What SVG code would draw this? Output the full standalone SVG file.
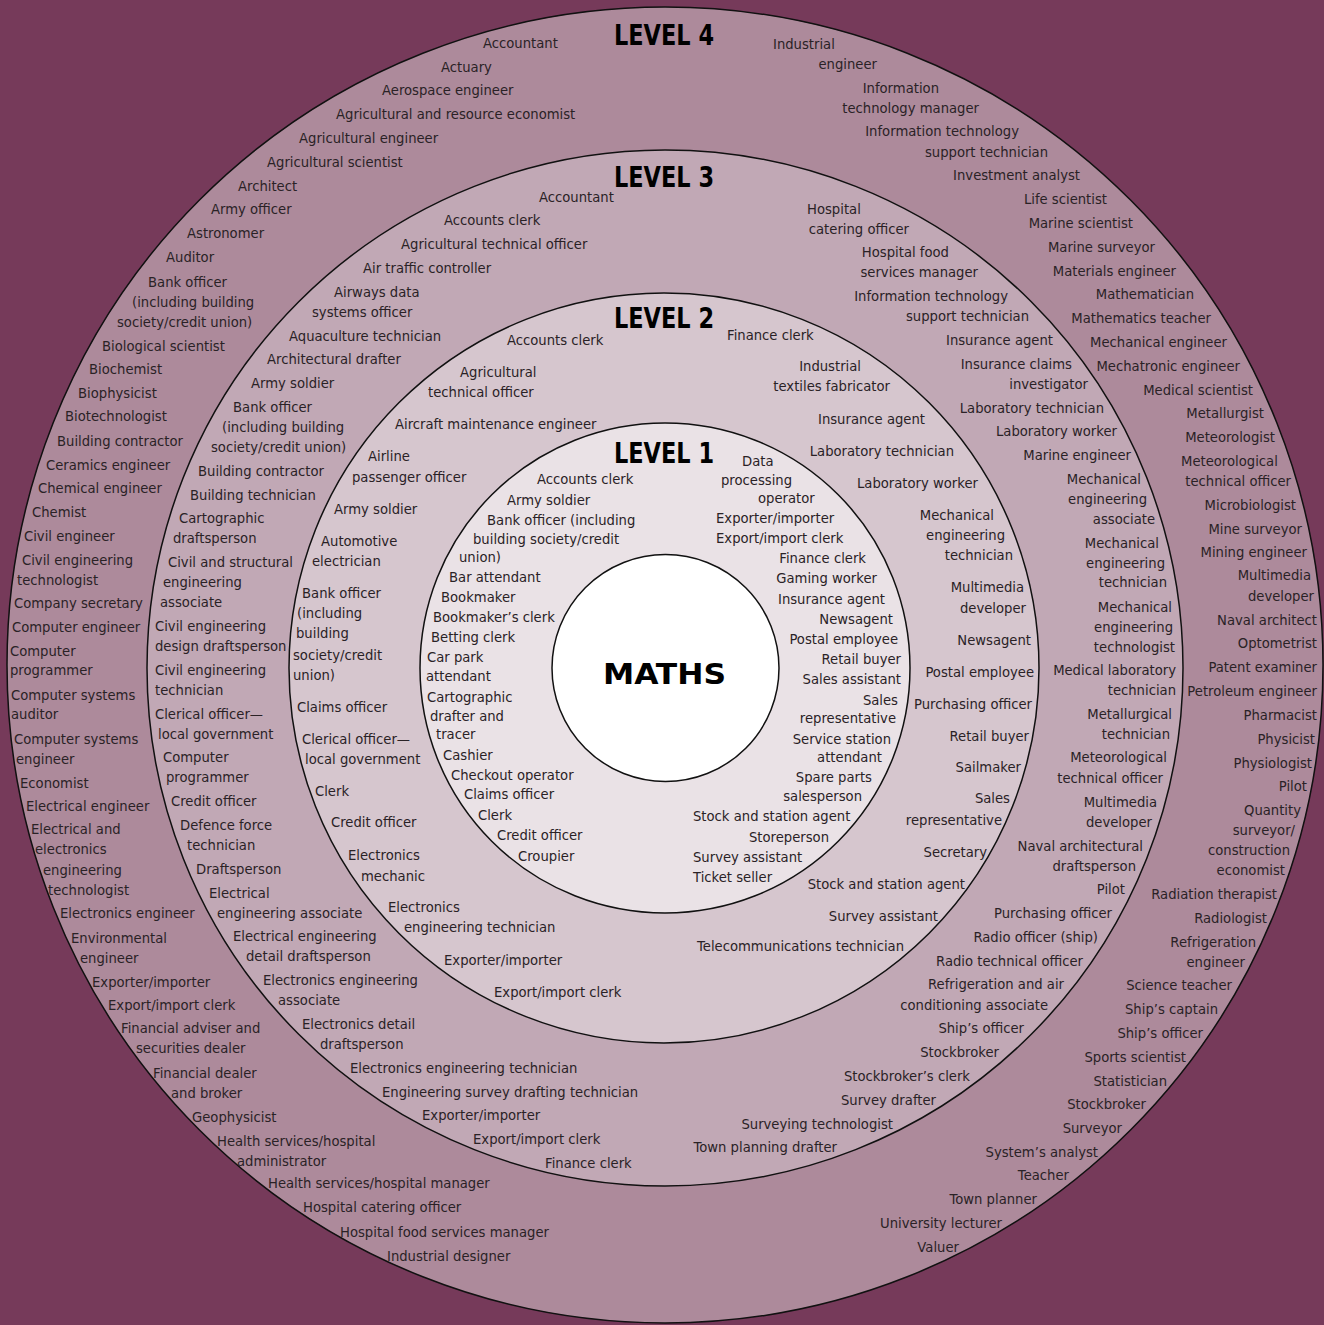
<svg xmlns="http://www.w3.org/2000/svg" width="1324" height="1325" viewBox="0 0 1324 1325">
<style>
.t{font-family:"DejaVu Sans","Liberation Sans",sans-serif;font-size:13.2px;fill:#2a2226}
.e{text-anchor:end}
.lv{font-family:"DejaVu Sans Condensed","DejaVu Sans","Liberation Sans",sans-serif;font-weight:bold;font-size:28.5px;fill:#000}
.ring{stroke:#111;stroke-width:1.5}
</style>
<rect x="0" y="0" width="1324" height="1325" fill="#763a5a"/>
<g id="level4">
<circle class="ring" cx="665" cy="665" r="658" fill="#ad8a9b"/>
<text class="lv" x="614" y="45" textLength="100" lengthAdjust="spacingAndGlyphs">LEVEL 4</text>
<g class="t">
<text x="483" y="48">Accountant</text>
<text x="441" y="72">Actuary</text>
<text x="382" y="95">Aerospace engineer</text>
<text x="336" y="119">Agricultural and resource economist</text>
<text x="299" y="143">Agricultural engineer</text>
<text x="267" y="167">Agricultural scientist</text>
<text x="238" y="191">Architect</text>
<text x="211" y="214">Army officer</text>
<text x="187" y="238">Astronomer</text>
<text x="166" y="262">Auditor</text>
<text x="148" y="287">Bank officer</text>
<text x="132" y="307">(including building</text>
<text x="117" y="327">society/credit union)</text>
<text x="102" y="351">Biological scientist</text>
<text x="89" y="374">Biochemist</text>
<text x="78" y="398">Biophysicist</text>
<text x="65" y="421">Biotechnologist</text>
<text x="57" y="446">Building contractor</text>
<text x="46" y="470">Ceramics engineer</text>
<text x="38" y="493">Chemical engineer</text>
<text x="32" y="517">Chemist</text>
<text x="24" y="541">Civil engineer</text>
<text x="22" y="565">Civil engineering</text>
<text x="17" y="585">technologist</text>
<text x="14" y="608">Company secretary</text>
<text x="12" y="632">Computer engineer</text>
<text x="10" y="656">Computer</text>
<text x="10" y="675">programmer</text>
<text x="11" y="700">Computer systems</text>
<text x="11" y="719">auditor</text>
<text x="14" y="744">Computer systems</text>
<text x="16" y="764">engineer</text>
<text x="20" y="788">Economist</text>
<text x="26" y="811">Electrical engineer</text>
<text x="31" y="834">Electrical and</text>
<text x="35" y="854">electronics</text>
<text x="43" y="875">engineering</text>
<text x="48" y="895">technologist</text>
<text x="60" y="918">Electronics engineer</text>
<text x="71" y="943">Environmental</text>
<text x="80" y="963">engineer</text>
<text x="92" y="987">Exporter/importer</text>
<text x="108" y="1010">Export/import clerk</text>
<text x="121" y="1033">Financial adviser and</text>
<text x="136" y="1053">securities dealer</text>
<text x="153" y="1078">Financial dealer</text>
<text x="171" y="1098">and broker</text>
<text x="192" y="1122">Geophysicist</text>
<text x="217" y="1146">Health services/hospital</text>
<text x="237" y="1166">administrator</text>
<text x="268" y="1188">Health services/hospital manager</text>
<text x="303" y="1212">Hospital catering officer</text>
<text x="340" y="1237">Hospital food services manager</text>
<text x="387" y="1261">Industrial designer</text>
<text x="773" y="49">Industrial</text>
<text class="e" x="877" y="69">engineer</text>
<text class="e" x="939" y="93">Information</text>
<text class="e" x="979" y="113">technology manager</text>
<text class="e" x="1019" y="136">Information technology</text>
<text class="e" x="1048" y="157">support technician</text>
<text class="e" x="1080" y="180">Investment analyst</text>
<text class="e" x="1107" y="204">Life scientist</text>
<text class="e" x="1133" y="228">Marine scientist</text>
<text class="e" x="1155" y="252">Marine surveyor</text>
<text class="e" x="1176" y="276">Materials engineer</text>
<text class="e" x="1194" y="299">Mathematician</text>
<text class="e" x="1211" y="323">Mathematics teacher</text>
<text class="e" x="1227" y="347">Mechanical engineer</text>
<text class="e" x="1240" y="371">Mechatronic engineer</text>
<text class="e" x="1253" y="395">Medical scientist</text>
<text class="e" x="1264" y="418">Metallurgist</text>
<text class="e" x="1275" y="442">Meteorologist</text>
<text x="1181" y="466">Meteorological</text>
<text class="e" x="1291" y="486">technical officer</text>
<text class="e" x="1296" y="510">Microbiologist</text>
<text class="e" x="1302" y="534">Mine surveyor</text>
<text class="e" x="1307" y="557">Mining engineer</text>
<text class="e" x="1311" y="580">Multimedia</text>
<text class="e" x="1314" y="601">developer</text>
<text class="e" x="1317" y="625">Naval architect</text>
<text class="e" x="1317" y="648">Optometrist</text>
<text class="e" x="1317" y="672">Patent examiner</text>
<text class="e" x="1317" y="696">Petroleum engineer</text>
<text class="e" x="1317" y="720">Pharmacist</text>
<text class="e" x="1315" y="744">Physicist</text>
<text class="e" x="1312" y="768">Physiologist</text>
<text class="e" x="1307" y="791">Pilot</text>
<text class="e" x="1301" y="815">Quantity</text>
<text class="e" x="1295" y="835">surveyor/</text>
<text class="e" x="1290" y="855">construction</text>
<text class="e" x="1285" y="875">economist</text>
<text class="e" x="1277" y="899">Radiation therapist</text>
<text class="e" x="1267" y="923">Radiologist</text>
<text class="e" x="1256" y="947">Refrigeration</text>
<text class="e" x="1245" y="967">engineer</text>
<text class="e" x="1232" y="990">Science teacher</text>
<text class="e" x="1218" y="1014">Ship’s captain</text>
<text class="e" x="1203" y="1038">Ship’s officer</text>
<text class="e" x="1186" y="1062">Sports scientist</text>
<text class="e" x="1167" y="1086">Statistician</text>
<text class="e" x="1146" y="1109">Stockbroker</text>
<text class="e" x="1122" y="1133">Surveyor</text>
<text class="e" x="1098" y="1157">System’s analyst</text>
<text class="e" x="1069" y="1180">Teacher</text>
<text class="e" x="1037" y="1204">Town planner</text>
<text class="e" x="1002" y="1228">University lecturer</text>
<text class="e" x="959" y="1252">Valuer</text>
</g>
</g>
<g id="level3">
<circle class="ring" cx="665" cy="668" r="518" fill="#c1a8b5"/>
<text class="lv" x="614" y="187" textLength="100" lengthAdjust="spacingAndGlyphs">LEVEL 3</text>
<g class="t">
<text x="539" y="202">Accountant</text>
<text x="444" y="225">Accounts clerk</text>
<text x="401" y="249">Agricultural technical officer</text>
<text x="363" y="273">Air traffic controller</text>
<text x="334" y="297">Airways data</text>
<text x="312" y="317">systems officer</text>
<text x="289" y="341">Aquaculture technician</text>
<text x="267" y="364">Architectural drafter</text>
<text x="251" y="388">Army soldier</text>
<text x="233" y="412">Bank officer</text>
<text x="222" y="432">(including building</text>
<text x="211" y="452">society/credit union)</text>
<text x="198" y="476">Building contractor</text>
<text x="190" y="500">Building technician</text>
<text x="179" y="523">Cartographic</text>
<text x="173" y="543">draftsperson</text>
<text x="168" y="567">Civil and structural</text>
<text x="163" y="587">engineering</text>
<text x="160" y="607">associate</text>
<text x="155" y="631">Civil engineering</text>
<text x="155" y="651">design draftsperson</text>
<text x="155" y="675">Civil engineering</text>
<text x="155" y="695">technician</text>
<text x="155" y="719">Clerical officer—</text>
<text x="158" y="739">local government</text>
<text x="163" y="762">Computer</text>
<text x="166" y="782">programmer</text>
<text x="171" y="806">Credit officer</text>
<text x="180" y="830">Defence force</text>
<text x="187" y="850">technician</text>
<text x="196" y="874">Draftsperson</text>
<text x="209" y="898">Electrical</text>
<text x="217" y="918">engineering associate</text>
<text x="233" y="941">Electrical engineering</text>
<text x="246" y="961">detail draftsperson</text>
<text x="263" y="985">Electronics engineering</text>
<text x="278" y="1005">associate</text>
<text x="302" y="1029">Electronics detail</text>
<text x="320" y="1049">draftsperson</text>
<text x="350" y="1073">Electronics engineering technician</text>
<text x="382" y="1097">Engineering survey drafting technician</text>
<text x="422" y="1120">Exporter/importer</text>
<text x="473" y="1144">Export/import clerk</text>
<text x="545" y="1168">Finance clerk</text>
<text x="807" y="214">Hospital</text>
<text class="e" x="909" y="234">catering officer</text>
<text class="e" x="949" y="257">Hospital food</text>
<text class="e" x="978" y="277">services manager</text>
<text class="e" x="1008" y="301">Information technology</text>
<text class="e" x="1029" y="321">support technician</text>
<text class="e" x="1053" y="345">Insurance agent</text>
<text class="e" x="1072" y="369">Insurance claims</text>
<text class="e" x="1088" y="389">investigator</text>
<text class="e" x="1104" y="413">Laboratory technician</text>
<text class="e" x="1117" y="436">Laboratory worker</text>
<text class="e" x="1131" y="460">Marine engineer</text>
<text class="e" x="1141" y="484">Mechanical</text>
<text class="e" x="1147" y="504">engineering</text>
<text class="e" x="1155" y="524">associate</text>
<text class="e" x="1159" y="548">Mechanical</text>
<text class="e" x="1165" y="568">engineering</text>
<text class="e" x="1167" y="587">technician</text>
<text class="e" x="1172" y="612">Mechanical</text>
<text class="e" x="1173" y="632">engineering</text>
<text class="e" x="1175" y="652">technologist</text>
<text class="e" x="1176" y="675">Medical laboratory</text>
<text class="e" x="1176" y="695">technician</text>
<text class="e" x="1172" y="719">Metallurgical</text>
<text class="e" x="1170" y="739">technician</text>
<text class="e" x="1167" y="762">Meteorological</text>
<text class="e" x="1163" y="783">technical officer</text>
<text class="e" x="1157" y="807">Multimedia</text>
<text class="e" x="1152" y="827">developer</text>
<text class="e" x="1143" y="851">Naval architectural</text>
<text class="e" x="1136" y="871">draftsperson</text>
<text class="e" x="1125" y="894">Pilot</text>
<text class="e" x="1112" y="918">Purchasing officer</text>
<text class="e" x="1098" y="942">Radio officer (ship)</text>
<text class="e" x="1083" y="966">Radio technical officer</text>
<text class="e" x="1064" y="989">Refrigeration and air</text>
<text class="e" x="1048" y="1010">conditioning associate</text>
<text class="e" x="1024" y="1033">Ship’s officer</text>
<text class="e" x="999" y="1057">Stockbroker</text>
<text class="e" x="970" y="1081">Stockbroker’s clerk</text>
<text class="e" x="936" y="1105">Survey drafter</text>
<text class="e" x="893" y="1129">Surveying technologist</text>
<text class="e" x="837" y="1152">Town planning drafter</text>
</g>
</g>
<g id="level2">
<circle class="ring" cx="664" cy="668" r="375" fill="#d6c6ce"/>
<text class="lv" x="614" y="328" textLength="100" lengthAdjust="spacingAndGlyphs">LEVEL 2</text>
<g class="t">
<text x="507" y="345">Accounts clerk</text>
<text x="460" y="377">Agricultural</text>
<text x="428" y="397">technical officer</text>
<text x="395" y="429">Aircraft maintenance engineer</text>
<text x="368" y="461">Airline</text>
<text x="352" y="482">passenger officer</text>
<text x="334" y="514">Army soldier</text>
<text x="321" y="546">Automotive</text>
<text x="312" y="566">electrician</text>
<text x="302" y="598">Bank officer</text>
<text x="297" y="618">(including</text>
<text x="296" y="638">building</text>
<text x="293" y="660">society/credit</text>
<text x="293" y="680">union)</text>
<text x="297" y="712">Claims officer</text>
<text x="302" y="744">Clerical officer—</text>
<text x="305" y="764">local government</text>
<text x="315" y="796">Clerk</text>
<text x="331" y="827">Credit officer</text>
<text x="348" y="860">Electronics</text>
<text x="361" y="881">mechanic</text>
<text x="388" y="912">Electronics</text>
<text x="404" y="932">engineering technician</text>
<text x="444" y="965">Exporter/importer</text>
<text x="494" y="997">Export/import clerk</text>
<text x="727" y="340">Finance clerk</text>
<text class="e" x="861" y="371">Industrial</text>
<text class="e" x="890" y="391">textiles fabricator</text>
<text class="e" x="925" y="424">Insurance agent</text>
<text class="e" x="954" y="456">Laboratory technician</text>
<text class="e" x="978" y="488">Laboratory worker</text>
<text class="e" x="994" y="520">Mechanical</text>
<text class="e" x="1005" y="540">engineering</text>
<text class="e" x="1013" y="560">technician</text>
<text class="e" x="1024" y="592">Multimedia</text>
<text class="e" x="1026" y="613">developer</text>
<text class="e" x="1031" y="645">Newsagent</text>
<text class="e" x="1034" y="677">Postal employee</text>
<text class="e" x="1032" y="709">Purchasing officer</text>
<text class="e" x="1029" y="741">Retail buyer</text>
<text class="e" x="1021" y="772">Sailmaker</text>
<text class="e" x="1010" y="803">Sales</text>
<text class="e" x="1002" y="825">representative</text>
<text class="e" x="987" y="857">Secretary</text>
<text class="e" x="965" y="889">Stock and station agent</text>
<text class="e" x="938" y="921">Survey assistant</text>
<text class="e" x="904" y="951">Telecommunications technician</text>
</g>
</g>
<g id="level1">
<circle class="ring" cx="665" cy="668" r="245" fill="#eae2e6"/>
<text class="lv" x="614" y="463" textLength="100" lengthAdjust="spacingAndGlyphs">LEVEL 1</text>
<g class="t">
<text x="537" y="484">Accounts clerk</text>
<text x="507" y="505">Army soldier</text>
<text x="487" y="525">Bank officer (including</text>
<text x="473" y="544">building society/credit</text>
<text x="459" y="562">union)</text>
<text x="449" y="582">Bar attendant</text>
<text x="441" y="602">Bookmaker</text>
<text x="433" y="622">Bookmaker’s clerk</text>
<text x="431" y="642">Betting clerk</text>
<text x="427" y="662">Car park</text>
<text x="426" y="681">attendant</text>
<text x="427" y="702">Cartographic</text>
<text x="430" y="721">drafter and</text>
<text x="436" y="739">tracer</text>
<text x="443" y="760">Cashier</text>
<text x="451" y="780">Checkout operator</text>
<text x="464" y="799">Claims officer</text>
<text x="478" y="820">Clerk</text>
<text x="497" y="840">Credit officer</text>
<text x="518" y="861">Croupier</text>
<text x="742" y="466">Data</text>
<text x="721" y="485">processing</text>
<text x="758" y="503">operator</text>
<text x="716" y="523">Exporter/importer</text>
<text x="716" y="543">Export/import clerk</text>
<text class="e" x="866" y="563">Finance clerk</text>
<text class="e" x="877" y="583">Gaming worker</text>
<text class="e" x="885" y="604">Insurance agent</text>
<text class="e" x="893" y="624">Newsagent</text>
<text class="e" x="898" y="644">Postal employee</text>
<text class="e" x="901" y="664">Retail buyer</text>
<text class="e" x="901" y="684">Sales assistant</text>
<text class="e" x="898" y="705">Sales</text>
<text class="e" x="896" y="723">representative</text>
<text class="e" x="891" y="744">Service station</text>
<text class="e" x="882" y="762">attendant</text>
<text class="e" x="872" y="782">Spare parts</text>
<text class="e" x="862" y="801">salesperson</text>
<text x="693" y="821">Stock and station agent</text>
<text class="e" x="829" y="842">Storeperson</text>
<text x="693" y="862">Survey assistant</text>
<text x="693" y="882">Ticket seller</text>
</g>
</g>
<g id="maths">
<circle class="ring" cx="665.5" cy="668" r="113.5" fill="#ffffff"/>
<text class="lv" x="603" y="684" font-size="39" textLength="123" lengthAdjust="spacingAndGlyphs">MATHS</text>
</g>
</svg>
